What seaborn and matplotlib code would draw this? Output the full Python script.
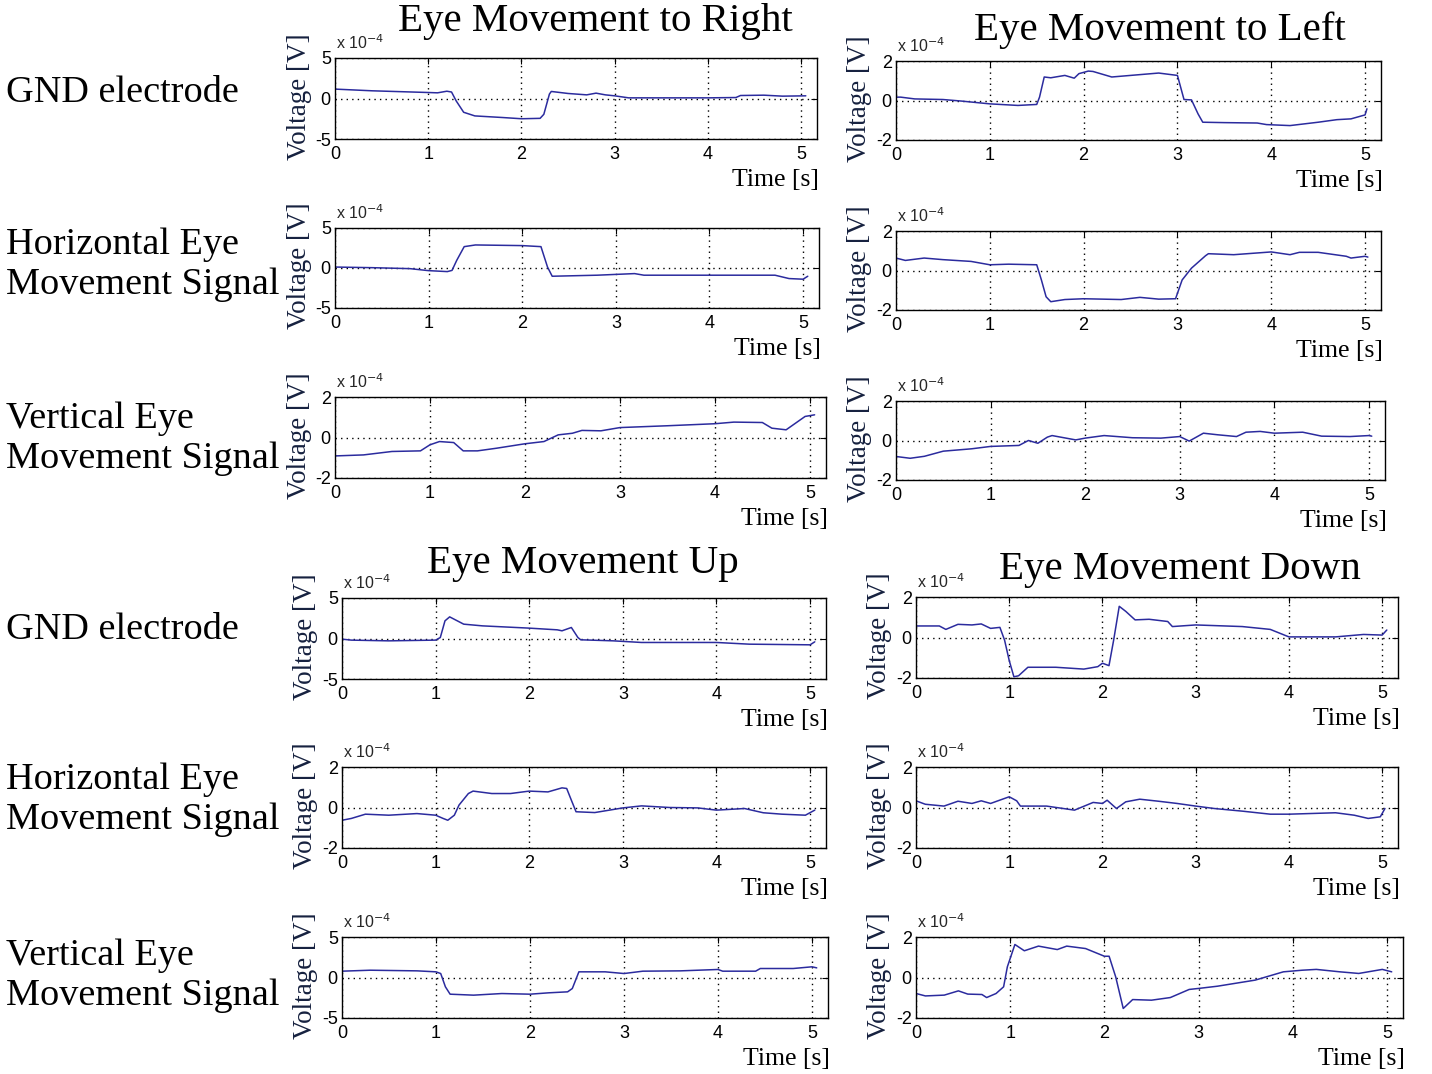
import matplotlib
matplotlib.use("Agg")
import matplotlib.pyplot as plt
import seaborn as sns

# time [s] and voltage [x 1e-4 V]
right_gnd_t = [0, 0.4, 1.0, 1.1, 1.2, 1.25, 1.3, 1.38, 1.5, 1.8, 2.0, 2.2, 2.24, 2.3, 2.32, 2.5, 2.7, 2.8, 2.9, 3.0, 3.15, 3.5, 4.0, 4.3, 4.35, 4.6, 4.8, 5.05]
right_gnd_v = [1.16, 0.95, 0.74, 0.7, 0.9, 0.8, -0.3, -1.7, -2.15, -2.35, -2.5, -2.45, -1.95, 0.55, 0.87, 0.62, 0.45, 0.66, 0.45, 0.33, 0.08, 0.08, 0.08, 0.12, 0.37, 0.41, 0.29, 0.33]

left_gnd_t = [0, 0.05, 0.2, 0.5, 0.7, 1.0, 1.3, 1.5, 1.53, 1.58, 1.65, 1.8, 1.9, 1.95, 2.05, 2.1, 2.3, 2.5, 2.8, 3.0, 3.07, 3.15, 3.22, 3.27, 3.5, 3.85, 3.95, 4.2, 4.5, 4.7, 4.85, 5.0, 5.02]
left_gnd_v = [0.17, 0.17, 0.08, 0.05, -0.03, -0.17, -0.25, -0.2, 0.17, 1.19, 1.15, 1.27, 1.13, 1.36, 1.49, 1.47, 1.19, 1.27, 1.39, 1.27, 0.05, 0.03, -0.68, -1.1, -1.12, -1.14, -1.22, -1.27, -1.1, -0.97, -0.93, -0.73, -0.42]

right_hor_t = [0, 0.4, 0.8, 1.0, 1.2, 1.25, 1.3, 1.38, 1.5, 2.0, 2.2, 2.27, 2.32, 2.8, 3.2, 3.3, 4.0, 4.7, 4.85, 5.0, 5.05]
right_hor_v = [0.12, 0.04, -0.08, -0.33, -0.45, -0.3, 0.95, 2.67, 2.88, 2.8, 2.67, 0.12, -1.03, -0.9, -0.7, -0.9, -0.9, -0.9, -1.32, -1.4, -1.03]

left_hor_t = [0, 0.1, 0.3, 0.5, 0.8, 1.0, 1.2, 1.5, 1.55, 1.6, 1.65, 1.8, 2.0, 2.4, 2.6, 2.8, 2.98, 3.05, 3.15, 3.3, 3.33, 3.6, 4.0, 4.2, 4.3, 4.5, 4.8, 4.85, 5.0, 5.03]
left_hor_v = [0.63, 0.51, 0.63, 0.55, 0.46, 0.29, 0.32, 0.29, -0.48, -1.33, -1.58, -1.47, -1.43, -1.47, -1.36, -1.45, -1.43, -0.48, 0.12, 0.75, 0.85, 0.8, 0.94, 0.8, 0.92, 0.92, 0.72, 0.63, 0.72, 0.68]

right_ver_t = [0, 0.3, 0.6, 0.9, 1.0, 1.1, 1.25, 1.35, 1.5, 1.7, 2.0, 2.2, 2.35, 2.5, 2.6, 2.8, 3.0, 3.5, 4.0, 4.2, 4.5, 4.6, 4.75, 4.85, 4.95, 5.05]
right_ver_v = [-0.91, -0.86, -0.69, -0.66, -0.36, -0.2, -0.25, -0.66, -0.66, -0.53, -0.31, -0.2, 0.13, 0.21, 0.35, 0.33, 0.49, 0.58, 0.68, 0.76, 0.74, 0.46, 0.38, 0.71, 1.04, 1.12]

left_ver_t = [0, 0.15, 0.3, 0.5, 0.8, 1.0, 1.3, 1.4, 1.5, 1.6, 1.65, 1.9, 2.0, 2.2, 2.5, 2.8, 3.0, 3.1, 3.25, 3.4, 3.6, 3.7, 3.85, 4.0, 4.3, 4.5, 4.8, 5.0, 5.03]
left_ver_v = [-0.81, -0.9, -0.8, -0.54, -0.42, -0.3, -0.25, 0.0, -0.14, 0.17, 0.25, 0.03, 0.12, 0.25, 0.14, 0.12, 0.2, -0.03, 0.37, 0.29, 0.2, 0.42, 0.46, 0.37, 0.42, 0.22, 0.2, 0.25, 0.22]

up_gnd_t = [0, 0.1, 0.5, 1.0, 1.05, 1.1, 1.15, 1.3, 1.5, 2.0, 2.3, 2.35, 2.45, 2.52, 2.55, 2.9, 3.2, 4.0, 4.35, 5.0, 5.05]
up_gnd_v = [-0.08, -0.2, -0.29, -0.2, 0.12, 2.18, 2.67, 1.77, 1.56, 1.28, 1.07, 0.95, 1.36, 0.12, -0.16, -0.29, -0.49, -0.49, -0.7, -0.78, -0.41]

down_gnd_t = [0, 0.25, 0.32, 0.45, 0.6, 0.7, 0.8, 0.9, 0.95, 1.0, 1.05, 1.1, 1.2, 1.5, 1.8, 1.95, 2.0, 2.07, 2.12, 2.18, 2.25, 2.35, 2.5, 2.7, 2.75, 3.0, 3.5, 3.8, 4.0, 4.5, 4.8, 5.0, 5.05]
down_gnd_v = [0.57, 0.57, 0.4, 0.65, 0.62, 0.67, 0.45, 0.5, -0.13, -1.14, -1.94, -1.89, -1.47, -1.47, -1.56, -1.44, -1.27, -1.39, -0.13, 1.54, 1.29, 0.87, 0.9, 0.79, 0.54, 0.62, 0.54, 0.4, 0.03, 0.03, 0.15, 0.12, 0.37]

up_hor_t = [0, 0.1, 0.25, 0.5, 0.8, 1.0, 1.08, 1.13, 1.2, 1.25, 1.35, 1.4, 1.6, 1.8, 2.0, 2.2, 2.35, 2.4, 2.45, 2.5, 2.7, 3.0, 3.2, 3.5, 3.8, 4.0, 4.3, 4.5, 4.7, 4.95, 5.05]
up_hor_v = [-0.63, -0.54, -0.33, -0.38, -0.3, -0.38, -0.54, -0.63, -0.38, 0.12, 0.69, 0.81, 0.69, 0.69, 0.81, 0.77, 0.97, 0.94, 0.36, -0.21, -0.25, -0.02, 0.08, 0.0, -0.02, -0.13, -0.05, -0.26, -0.33, -0.38, -0.13]

down_hor_t = [0, 0.1, 0.3, 0.45, 0.6, 0.7, 0.8, 1.0, 1.08, 1.12, 1.4, 1.7, 1.9, 2.0, 2.05, 2.15, 2.25, 2.4, 2.6, 2.8, 3.0, 3.2, 3.5, 3.8, 4.0, 4.5, 4.7, 4.85, 4.98, 5.03]
down_hor_v = [0.33, 0.16, 0.07, 0.31, 0.2, 0.33, 0.2, 0.53, 0.33, 0.07, 0.07, -0.13, 0.25, 0.2, 0.36, -0.05, 0.28, 0.41, 0.31, 0.2, 0.07, -0.05, -0.18, -0.33, -0.33, -0.26, -0.38, -0.54, -0.46, -0.05]

up_ver_t = [0, 0.3, 0.8, 1.0, 1.05, 1.1, 1.15, 1.4, 1.7, 2.0, 2.2, 2.4, 2.45, 2.52, 2.8, 3.0, 3.2, 3.6, 4.0, 4.05, 4.4, 4.45, 4.8, 5.0, 5.05]
up_ver_v = [0.78, 0.9, 0.82, 0.7, 0.49, -1.15, -2.06, -2.18, -1.98, -2.06, -1.89, -1.77, -1.36, 0.7, 0.7, 0.49, 0.78, 0.82, 0.99, 0.78, 0.78, 1.11, 1.11, 1.32, 1.19]

down_ver_t = [0, 0.1, 0.3, 0.45, 0.55, 0.7, 0.75, 0.85, 0.93, 0.97, 1.05, 1.15, 1.3, 1.5, 1.6, 1.8, 2.0, 2.05, 2.12, 2.2, 2.3, 2.5, 2.7, 2.9, 3.0, 3.2, 3.6, 3.9, 4.1, 4.25, 4.5, 4.7, 4.95, 5.05]
down_ver_v = [-0.79, -0.91, -0.87, -0.66, -0.82, -0.84, -0.99, -0.79, -0.46, 0.53, 1.63, 1.32, 1.55, 1.38, 1.55, 1.43, 1.05, 1.05, 0.03, -1.53, -1.09, -1.12, -0.99, -0.59, -0.54, -0.43, -0.13, 0.28, 0.36, 0.4, 0.28, 0.2, 0.4, 0.28]

y_limits = [5, 2, 5, 2, 2, 2, 5, 2, 2, 2, 5, 2]

titles = ["Eye Movement to Right", "Eye Movement to Left", "Eye Movement Up", "Eye Movement Down"]
row_labels = ["GND electrode", "Horizontal Eye\nMovement Signal", "Vertical Eye\nMovement Signal",
              "GND electrode", "Horizontal Eye\nMovement Signal", "Vertical Eye\nMovement Signal"]

series = [
    (right_gnd_t, right_gnd_v), (left_gnd_t, left_gnd_v),
    (right_hor_t, right_hor_v), (left_hor_t, left_hor_v),
    (right_ver_t, right_ver_v), (left_ver_t, left_ver_v),
    (up_gnd_t, up_gnd_v), (down_gnd_t, down_gnd_v),
    (up_hor_t, up_hor_v), (down_hor_t, down_hor_v),
    (up_ver_t, up_ver_v), (down_ver_t, down_ver_v),
]

# axes boxes in pixels: left, top, right, bottom
boxes = [
    (335, 58, 817, 139), (896, 61, 1381, 140),
    (335, 228, 819, 308), (896, 231, 1381, 310),
    (335, 397, 826, 478), (896, 401, 1385, 480),
    (342, 598, 826, 679), (916, 597, 1398, 678),
    (342, 767, 826, 848), (916, 767, 1398, 848),
    (342, 937, 828, 1018), (916, 937, 1403, 1018),
]
title_pos = [(595, 22), (1160, 30), (583, 564), (1180, 569)]
row_y = [93, 265, 439, 630, 800, 976]

sns.set_style("white")
plt.rcParams['axes.unicode_minus'] = False

W, H = 1432, 1074
fig = plt.figure(figsize=(W / 100, H / 100), dpi=100)
fig.patch.set_facecolor("white")

serif = ["Liberation Serif", "DejaVu Serif"]
tick_font = ["Liberation Sans Narrow", "Liberation Sans", "DejaVu Sans"]
line_col = "#2b2b9e"


def fx(x):
    return x / W


def fy(y):
    return 1 - y / H


for (t, v), (l, top, r, b), lim in zip(series, boxes, y_limits):
    ax = fig.add_axes([fx(l), fy(b), (r - l) / W, (b - top) / H])
    sns.lineplot(x=t, y=v, ax=ax, color=line_col, linewidth=1.1, estimator=None, sort=False)
    ax.set_xlim(0, 5.17)
    ax.set_ylim(-lim, lim)
    ax.set_xticks(range(6))
    ax.set_yticks([-lim, 0, lim])
    ax.set_xlabel("")
    ax.set_ylabel("")
    ax.grid(True, linestyle=(0, (1, 3)), color="black", linewidth=1.0)
    ax.tick_params(direction="in", length=4, top=True, right=True, labelsize=13, colors="black")
    ax.tick_params(axis="x", pad=5)
    ax.tick_params(axis="y", pad=3)
    for lbl in ax.get_xticklabels() + ax.get_yticklabels():
        lbl.set_family(tick_font)
    for sp in ax.spines.values():
        sp.set_color("black")
        sp.set_linewidth(1.0)
    # MATLAB style exponent above the y axis
    fig.text(fx(l + 1), fy(top - 6), r"x 10$^{-4}$", fontsize=11.5, ha="left", va="bottom",
             family=tick_font)
    fig.text(fx(l - 36), fy((top + b) / 2 - 2), "Voltage [V]", rotation=90, ha="center", va="center",
             fontsize=19.5, family=serif, color="#16213f")
    fig.text(fx(r + 2), fy(b + 41), "Time [s]", ha="right", va="center", fontsize=18.5, family=serif,
             color="black")

for txt, (x, y) in zip(titles, title_pos):
    fig.text(fx(x), fy(y), txt, ha="center", va="center", fontsize=29.5, family=serif, color="black")

for txt, y in zip(row_labels, row_y):
    fig.text(fx(6), fy(y), txt, ha="left", va="center", fontsize=27.5, family=serif,
             linespacing=1.2, color="black")

fig.savefig("out.png", dpi=100)
